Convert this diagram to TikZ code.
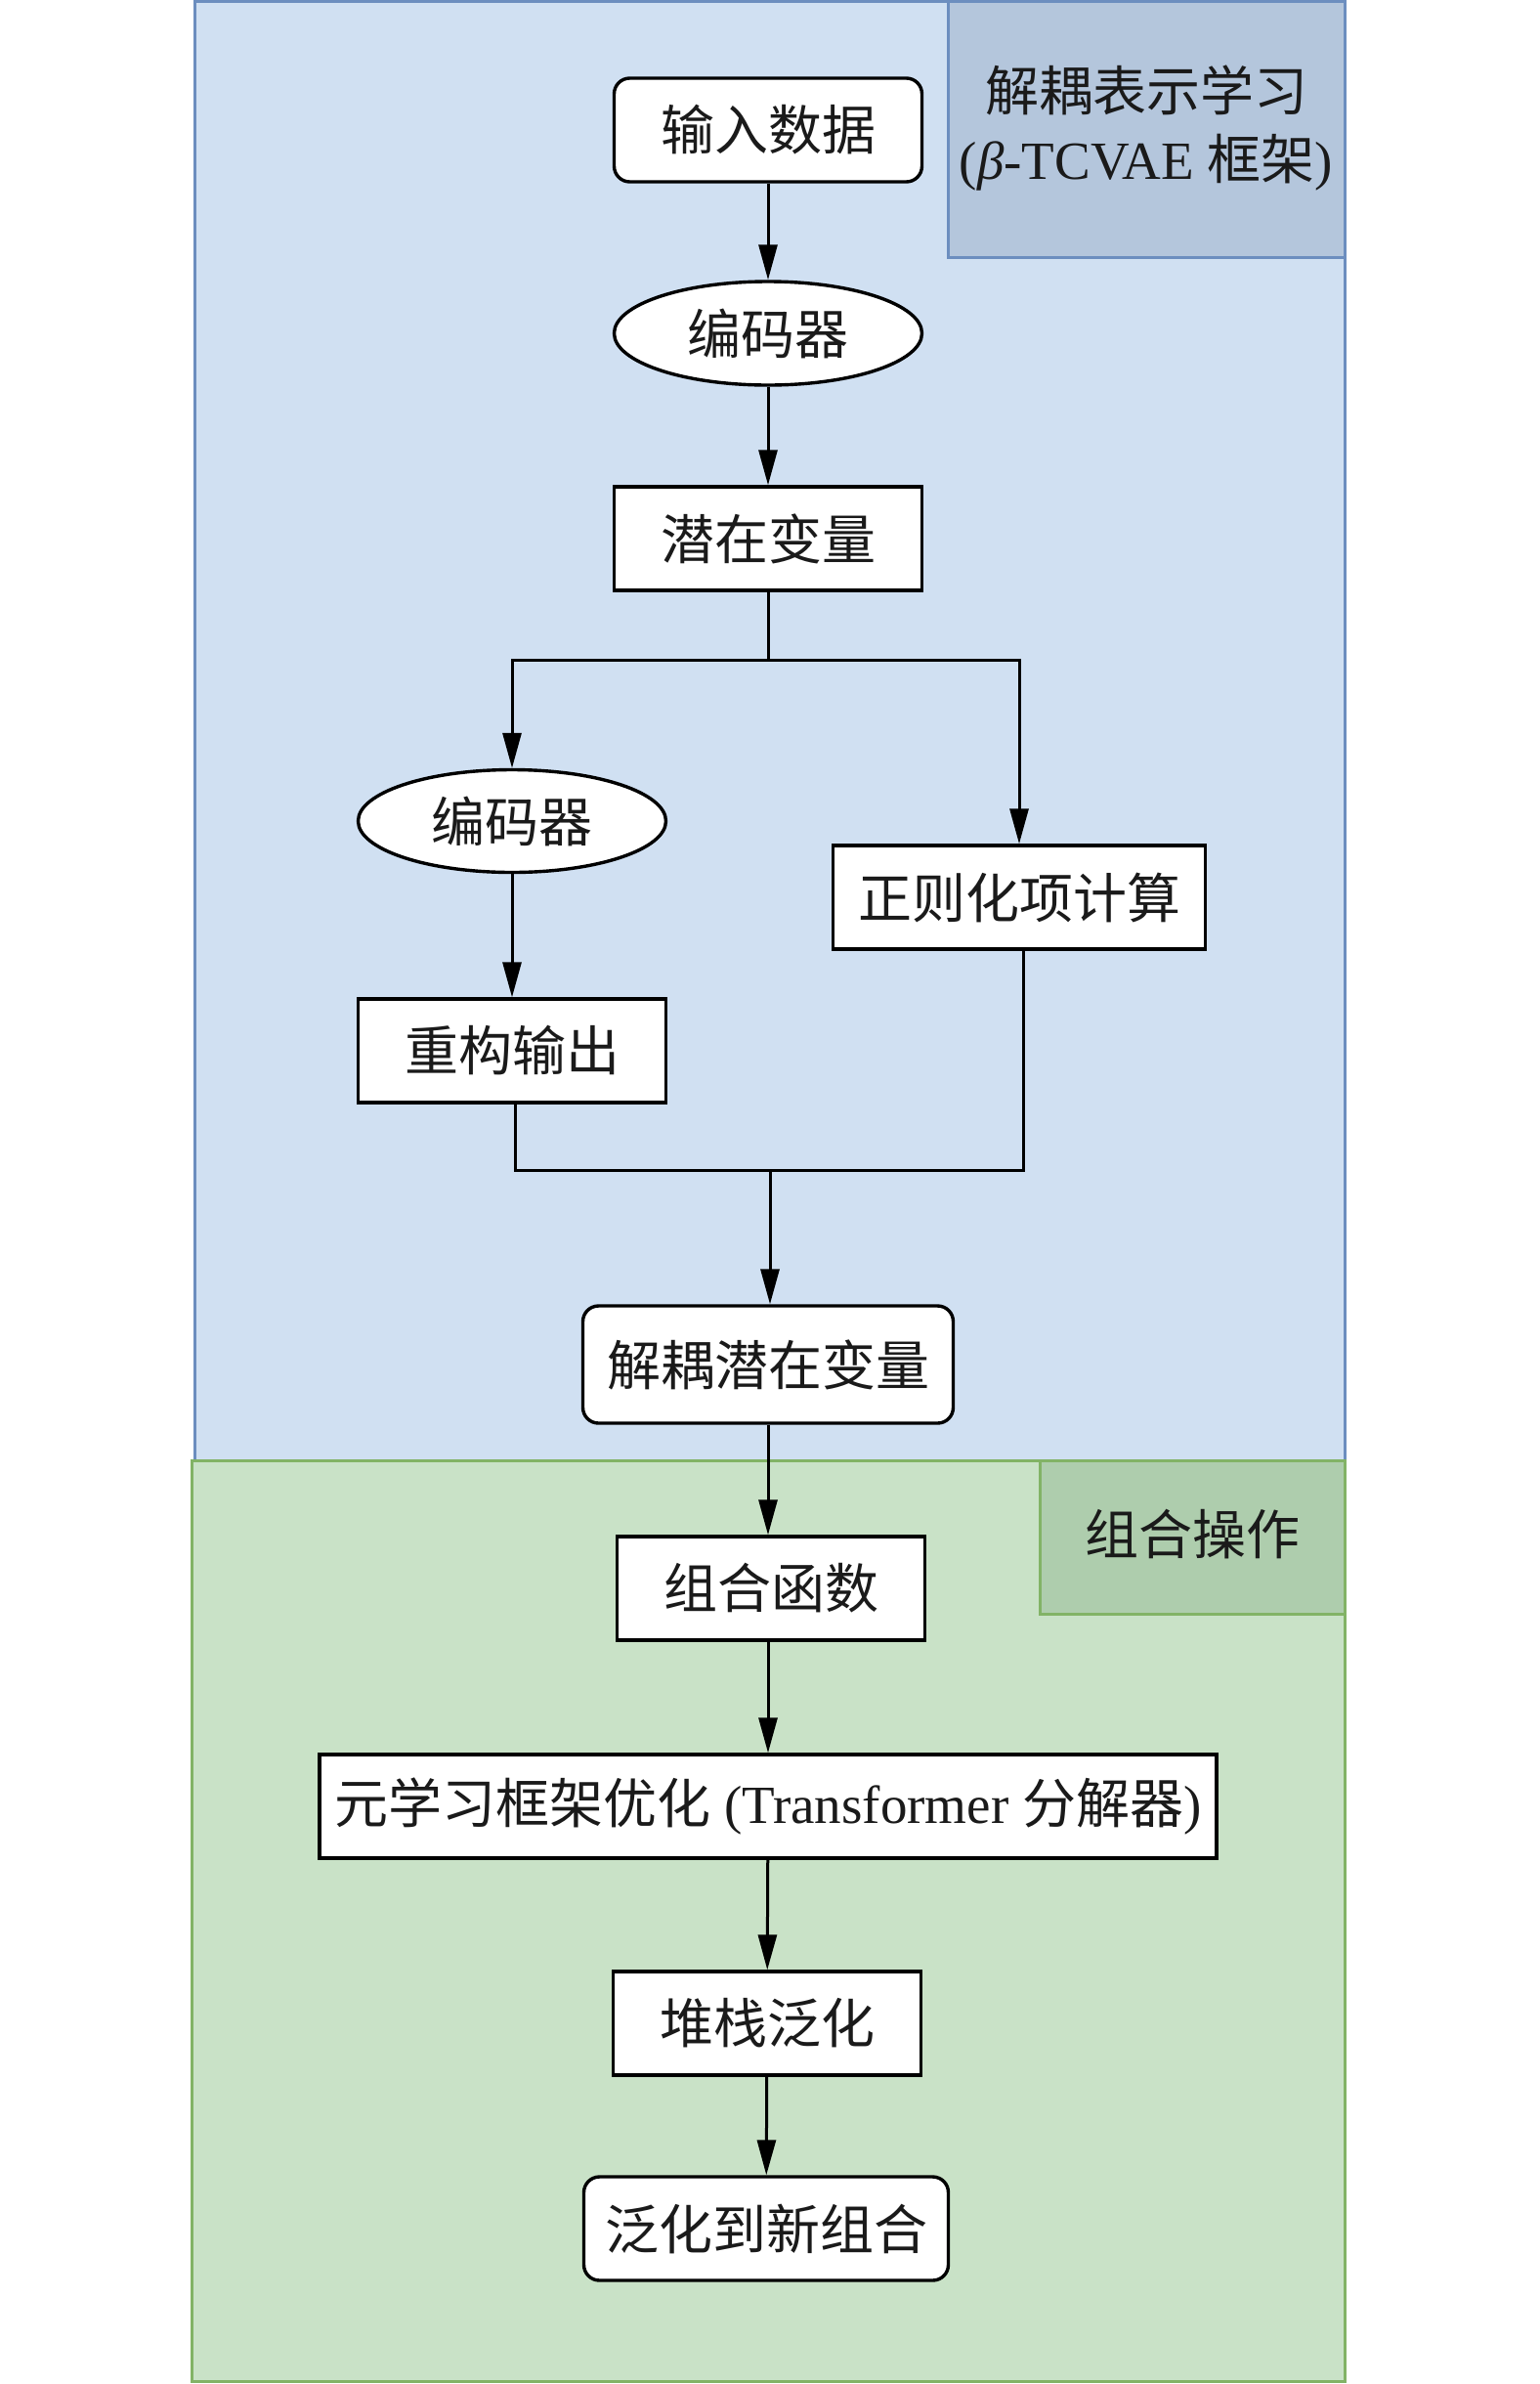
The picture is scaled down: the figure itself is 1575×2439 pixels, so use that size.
\documentclass[tikz,border=0pt]{standalone}
\usepackage{fontspec}
\setmainfont{Liberation Serif}
\newfontfamily\cjk{Noto Sans CJK SC}
\usetikzlibrary{arrows.meta,shapes.geometric}
\definecolor{bluefill}{HTML}{D0E0F2}
\definecolor{bluelab}{HTML}{B4C6DC}
\definecolor{bluedraw}{HTML}{6C8EBF}
\definecolor{greenfill}{HTML}{C9E2C7}
\definecolor{greenlab}{HTML}{AECDAD}
\definecolor{greendraw}{HTML}{82B366}
\definecolor{txt}{HTML}{1A1A1A}
\newcommand\bigfs{\fontsize{55}{70}\selectfont}
\begin{document}
\begin{tikzpicture}[x=1pt,y=-1pt,
  box/.style={draw=black,line width=3.4pt,fill=white,minimum width=315pt,minimum height=106pt,inner sep=0pt,text=txt,font=\bigfs\cjk},
  rbox/.style={box,rounded corners=16pt},
  ell/.style={box,ellipse},
  lab/.style={inner sep=0pt,text=txt,font=\bigfs\cjk,align=center},
  conn/.style={line width=3pt,draw=black},
  arr/.style={conn,-{Triangle[length=36pt,width=19pt]}}]
\useasboundingbox (0,0) rectangle (1575,2439);
% panels
\draw[bluedraw,line width=3pt,fill=bluefill] (199,1.5) rectangle (1376,1494);
\draw[bluedraw,line width=3pt,fill=bluelab] (970,1.5) rectangle (1376,263);
\draw[greendraw,line width=3pt,fill=greenfill] (196,1494) rectangle (1376,2436);
\draw[greendraw,line width=3pt,fill=greenlab] (1064,1494) rectangle (1376,1651);
\node[lab] (lblue) at (1173,131) {解耦表示学习\\{\rmfamily(\textit{β}-TCVAE }框架{\rmfamily)}};
\node[lab] (lgreen) at (1220,1570) {组合操作};
% nodes
\node[rbox] (input) at (786,133) {输入数据};
\node[ell] (enc1) at (786,341) {编码器};
\node[box] (latent) at (786,551) {潜在变量};
\node[ell,minimum height=105pt] (enc2) at (524,840) {编码器};
\node[box,minimum width=381pt] (reg) at (1043,918) {正则化项计算};
\node[box] (recon) at (524,1075) {重构输出};
\node[rbox,minimum width=379pt,minimum height=120pt] (dlat) at (786,1396) {解耦潜在变量};
\node[box] (comb) at (789,1625) {组合函数};
\node[box,minimum width=918pt] (meta) at (786,1848) {元学习框架优化{\rmfamily\ (Transformer }分解器{\rmfamily)}};
\node[box] (stack) at (785,2070) {堆栈泛化};
\node[rbox,minimum width=373pt] (gen) at (784,2280) {泛化到新组合};
% connectors
\coordinate (j1) at (786,675);
\coordinate (j2) at (788,1197);
\draw[arr] (input) -- (enc1);
\draw[arr] (enc1) -- (latent);
\draw[conn] (latent.south) -- (j1);
\draw[arr] (j1) -| (enc2.north);
\draw[arr] (j1) -| (reg.north);
\draw[arr] (enc2) -- (recon);
\draw[conn] ([xshift=3pt]recon.south) |- (j2);
\draw[conn] ([xshift=4pt]reg.south) |- (j2);
\draw[arr] (j2) -- (j2 |- dlat.north);
\draw[arr] (dlat.south) -- (dlat.south |- comb.north);
\draw[arr] (comb.south -| meta.north) -- (meta.north);
\draw[arr] (meta) -- (stack);
\draw[arr] (stack) -- (gen);
\end{tikzpicture}
\end{document}
